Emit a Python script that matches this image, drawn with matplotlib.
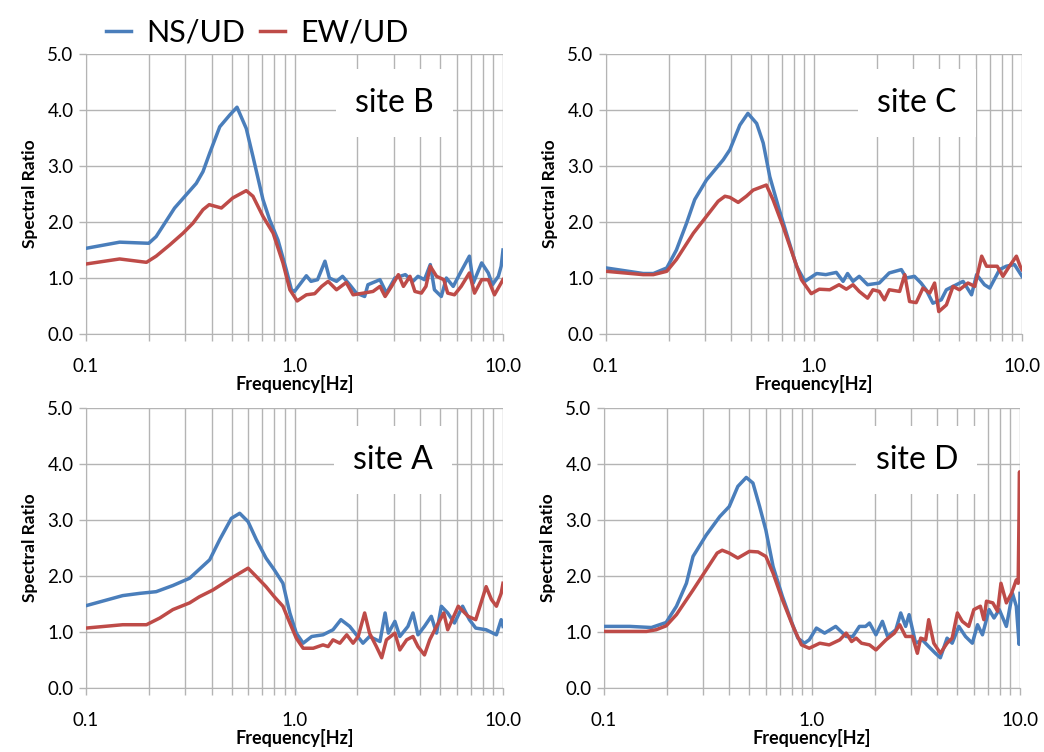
import matplotlib
matplotlib.use("Agg")
import matplotlib.pyplot as plt
from matplotlib.ticker import FixedLocator, LogLocator, NullFormatter

plt.rcParams['font.family'] = ['Lato', 'DejaVu Sans']

# ---- data (frequency [Hz], spectral ratio) ----
b_ns_f = [0.1, 0.145, 0.2, 0.217, 0.266, 0.338, 0.364, 0.392, 0.438, 0.489, 0.53, 0.587, 0.632, 0.706,
          0.76, 0.833, 0.913, 0.967, 1.0, 1.14, 1.2, 1.29, 1.4, 1.47, 1.59, 1.7, 1.84, 1.98, 2.17, 2.25,
          2.57, 2.76, 3.03, 3.4, 3.7, 3.91, 4.2, 4.48, 4.69, 5.06, 5.35, 5.77, 6.3, 6.9, 7.2, 7.9, 8.5,
          8.9, 9.5, 9.8, 10.0]
b_ns_v = [1.53, 1.64, 1.62, 1.74, 2.25, 2.69, 2.9, 3.23, 3.7, 3.91, 4.05, 3.67, 3.17, 2.4,
          2.04, 1.68, 1.15, 0.79, 0.76, 1.04, 0.94, 0.97, 1.3, 1.0, 0.94, 1.03, 0.88, 0.73, 0.67, 0.88,
          0.97, 0.73, 1.0, 1.06, 0.94, 1.03, 0.97, 1.24, 0.79, 0.67, 1.0, 0.85, 1.12, 1.39, 0.91, 1.27, 1.09,
          0.88, 1.03, 1.21, 1.5]
b_ew_f = [0.1, 0.145, 0.195, 0.217, 0.252, 0.292, 0.326, 0.364, 0.39, 0.446, 0.506, 0.587, 0.632, 0.706,
          0.79, 0.88, 0.95, 1.03, 1.14, 1.25, 1.35, 1.45, 1.59, 1.77, 1.91, 2.14, 2.38, 2.57, 2.72, 2.92,
          3.15, 3.33, 3.58, 3.78, 4.06, 4.27, 4.48, 4.8, 5.2, 5.43, 5.85, 6.3, 6.9, 7.3, 7.9, 8.5, 9.1, 10.0]
b_ew_v = [1.25, 1.34, 1.28, 1.39, 1.59, 1.8, 1.98, 2.22, 2.31, 2.25, 2.43, 2.56, 2.46, 2.1,
          1.8, 1.27, 0.79, 0.59, 0.7, 0.72, 0.85, 0.94, 0.79, 0.92, 0.7, 0.73, 0.76, 0.85, 0.67, 0.85,
          1.06, 0.85, 1.03, 0.76, 0.73, 0.85, 1.21, 1.03, 0.97, 0.73, 0.7, 0.85, 1.09, 0.73, 0.97, 0.97, 0.7, 0.97]

c_ns_f = [0.1, 0.151, 0.169, 0.196, 0.218, 0.244, 0.267, 0.304, 0.366, 0.394, 0.44, 0.481, 0.53, 0.57,
          0.613, 0.673, 0.737, 0.824, 0.904, 1.03, 1.14, 1.28, 1.38, 1.45, 1.54, 1.65, 1.81, 2.06, 2.3,
          2.63, 2.78, 3.04, 3.27, 3.46, 3.73, 4.09, 4.33, 4.66, 5.21, 5.72, 6.05, 6.6, 7.0, 7.8, 8.4, 9.2, 10.0]
c_ns_v = [1.18, 1.08, 1.08, 1.18, 1.5, 1.98, 2.4, 2.75, 3.11, 3.29, 3.73, 3.94, 3.76, 3.41,
          2.81, 2.28, 1.8, 1.21, 0.94, 1.08, 1.06, 1.1, 0.94, 1.08, 0.94, 1.03, 0.88, 0.91, 1.09,
          1.15, 1.0, 1.03, 0.91, 0.79, 0.55, 0.61, 0.79, 0.85, 0.94, 0.7, 1.06, 0.88, 0.82, 1.15, 1.21, 1.24, 1.03]
c_ew_f = [0.1, 0.151, 0.169, 0.196, 0.218, 0.263, 0.304, 0.346, 0.373, 0.394, 0.432, 0.473, 0.51, 0.59,
          0.635, 0.71, 0.795, 0.87, 0.97, 1.06, 1.19, 1.32, 1.43, 1.54, 1.65, 1.81, 1.92, 2.06, 2.18, 2.3,
          2.58, 2.73, 2.88, 3.1, 3.34, 3.6, 3.8, 3.98, 4.33, 4.66, 5.0, 5.5, 5.93, 6.4, 6.75, 7.6, 8.1, 8.7,
          9.4, 9.8, 10.0]
c_ew_v = [1.12, 1.06, 1.06, 1.12, 1.33, 1.8, 2.1, 2.37, 2.46, 2.44, 2.35, 2.46, 2.57, 2.66,
          2.4, 1.92, 1.39, 0.97, 0.72, 0.8, 0.79, 0.88, 0.8, 0.88, 0.76, 0.64, 0.79, 0.76, 0.61, 0.79,
          0.76, 1.06, 0.58, 0.56, 0.82, 0.73, 0.91, 0.4, 0.52, 0.85, 0.79, 0.91, 0.85, 1.39, 1.21, 1.21, 1.03, 1.21,
          1.39, 1.21, 1.15]

a_ns_f = [0.1, 0.15, 0.181, 0.217, 0.261, 0.314, 0.392, 0.438, 0.498, 0.546, 0.599, 0.656, 0.73, 0.8,
          0.88, 0.95, 1.02, 1.1, 1.21, 1.37, 1.53, 1.67, 1.84, 1.98, 2.13, 2.29, 2.57, 2.72, 2.82, 3.03,
          3.2, 3.5, 3.7, 3.91, 4.2, 4.53, 4.8, 5.06, 5.43, 5.85, 6.4, 6.9, 7.4, 8.3, 9.3, 9.8, 10.0]
a_ns_v = [1.47, 1.65, 1.69, 1.72, 1.83, 1.96, 2.29, 2.65, 3.03, 3.12, 2.97, 2.65, 2.32, 2.11,
          1.87, 1.34, 0.98, 0.8, 0.92, 0.95, 1.04, 1.22, 1.1, 0.95, 0.8, 0.92, 0.83, 1.34, 0.98, 1.19,
          0.92, 1.1, 1.34, 0.95, 1.1, 1.28, 0.98, 1.46, 1.34, 1.16, 1.46, 1.22, 1.07, 1.04, 0.95, 1.22, 1.1]
a_ew_f = [0.1, 0.15, 0.195, 0.226, 0.261, 0.314, 0.35, 0.406, 0.507, 0.599, 0.656, 0.73, 0.8, 0.88,
          0.95, 1.02, 1.1, 1.23, 1.37, 1.45, 1.53, 1.65, 1.78, 1.91, 2.02, 2.17, 2.29, 2.47, 2.62, 2.76,
          3.03, 3.2, 3.45, 3.7, 3.91, 4.2, 4.45, 4.8, 5.2, 5.43, 6.1, 6.8, 7.4, 8.3, 8.8, 9.3, 9.8, 10.0]
a_ew_v = [1.07, 1.13, 1.13, 1.25, 1.4, 1.52, 1.63, 1.75, 1.98, 2.14, 1.99, 1.81, 1.63, 1.46,
          1.16, 0.89, 0.71, 0.71, 0.77, 0.74, 0.86, 0.8, 0.95, 0.8, 0.92, 1.34, 0.98, 0.74, 0.54, 0.86,
          0.98, 0.68, 0.86, 0.92, 0.74, 0.59, 0.86, 1.1, 1.34, 1.04, 1.46, 1.28, 1.22, 1.81, 1.58, 1.46, 1.69, 1.87]

d_ns_f = [0.1, 0.133, 0.169, 0.199, 0.223, 0.249, 0.268, 0.31, 0.36, 0.4, 0.44, 0.483, 0.52, 0.56,
          0.6, 0.65, 0.72, 0.79, 0.855, 0.92, 0.97, 1.05, 1.15, 1.3, 1.46, 1.57, 1.69, 1.81, 1.89, 2.03,
          2.18, 2.31, 2.53, 2.67, 2.82, 2.93, 3.15, 3.39, 3.64, 3.92, 4.14, 4.46, 4.72, 5.08, 5.47, 5.9,
          6.25, 6.6, 7.1, 7.5, 7.95, 8.6, 9.2, 9.6, 9.9, 10.0]
d_ns_v = [1.1, 1.1, 1.08, 1.17, 1.46, 1.87, 2.35, 2.73, 3.06, 3.24, 3.6, 3.76, 3.66, 3.24,
          2.82, 2.17, 1.64, 1.22, 0.89, 0.8, 0.86, 1.07, 0.98, 1.1, 0.92, 0.92, 1.1, 1.1, 1.16, 0.95,
          1.19, 0.92, 1.04, 1.34, 1.1, 1.31, 0.8, 0.86, 0.74, 0.62, 0.54, 0.89, 0.8, 1.1, 0.92, 0.8,
          1.13, 0.95, 1.4, 1.25, 1.4, 1.1, 1.69, 1.46, 0.78, 1.69]
d_ew_f = [0.1, 0.16, 0.178, 0.199, 0.223, 0.268, 0.31, 0.35, 0.37, 0.4, 0.44, 0.5, 0.55, 0.6,
          0.65, 0.72, 0.81, 0.89, 0.97, 1.09, 1.21, 1.36, 1.46, 1.55, 1.63, 1.73, 1.89, 2.03, 2.27, 2.49,
          2.64, 2.82, 3.04, 3.21, 3.33, 3.52, 3.64, 3.85, 4.14, 4.46, 4.72, 5.0, 5.28, 5.67, 6.0, 6.45,
          6.7, 6.9, 7.4, 7.8, 8.1, 8.6, 9.1, 9.6, 9.8, 9.95, 10.0]
d_ew_v = [1.01, 1.01, 1.04, 1.11, 1.31, 1.75, 2.11, 2.41, 2.46, 2.41, 2.32, 2.44, 2.43, 2.35,
          2.05, 1.58, 1.1, 0.77, 0.71, 0.8, 0.77, 0.86, 0.98, 0.83, 0.89, 0.8, 0.77, 0.68, 0.86, 0.98,
          1.13, 0.92, 0.92, 0.62, 0.89, 0.86, 1.22, 0.8, 0.62, 0.8, 0.89, 1.34, 1.19, 1.1, 1.4, 1.46,
          1.22, 1.55, 1.52, 1.37, 1.87, 1.52, 1.69, 1.93, 1.87, 3.86, 2.05]

sites = ['site B', 'site C', 'site A', 'site D']
ns_data = [(b_ns_f, b_ns_v), (c_ns_f, c_ns_v), (a_ns_f, a_ns_v), (d_ns_f, d_ns_v)]
ew_data = [(b_ew_f, b_ew_v), (c_ew_f, c_ew_v), (a_ew_f, a_ew_v), (d_ew_f, d_ew_v)]

blue = '#4a7ebb'
red = '#be4b48'
grid_c = '#b4b4b4'

W, H = 1044, 752
fig = plt.figure(figsize=(W / 100, H / 100), dpi=100)

# axes boxes in pixels: left, top, right, bottom
boxes = [(86, 54, 503, 334), (606, 54, 1022, 334), (86, 408, 503, 688), (604, 408, 1020, 688)]
label_pos = [(0.74, 0.825), (0.748, 0.825), (0.737, 0.814), (0.752, 0.814)]

for i, (l, t, r, b) in enumerate(boxes):
    ax = fig.add_axes([l / W, 1 - b / H, (r - l) / W, (b - t) / H])
    ax.set_xscale('log')
    ax.set_xlim(0.1, 10)
    ax.set_ylim(0, 5)
    ax.xaxis.set_major_locator(FixedLocator([0.1, 1, 10]))
    ax.xaxis.set_minor_locator(LogLocator(base=10, subs=range(2, 10)))
    ax.xaxis.set_minor_formatter(NullFormatter())
    ax.set_xticks([0.1, 1, 10])
    ax.set_xticklabels(['0.1', '1.0', '10.0'])
    ax.set_yticks([0, 1, 2, 3, 4, 5])
    ax.set_yticklabels(['0.0', '1.0', '2.0', '3.0', '4.0', '5.0'])
    ax.grid(True, which='both', axis='x', color=grid_c, lw=1)
    ax.grid(True, which='major', axis='y', color=grid_c, lw=1)
    ax.set_axisbelow(True)
    for s in ['top', 'right']:
        ax.spines[s].set_visible(False)
    for s in ['left', 'bottom']:
        ax.spines[s].set_color(grid_c)
    ax.tick_params(axis='both', which='both', colors=grid_c, labelcolor='black', labelsize=13.5, width=1)
    ax.tick_params(axis='x', which='both', length=5, pad=12)
    ax.tick_params(axis='y', length=5, pad=4)

    f, v = ns_data[i]
    ax.plot(f, v, color=blue, lw=2.5, label='NS/UD', zorder=3)
    f, v = ew_data[i]
    ax.plot(f, v, color=red, lw=2.5, label='EW/UD', zorder=3)

    ax.set_xlabel('Frequency[Hz]', fontsize=13, fontweight='bold', labelpad=0)
    ax.set_ylabel('Spectral Ratio', fontsize=12.5, fontweight='bold', labelpad=7)

    tx, ty = label_pos[i]
    ax.text(tx, ty, sites[i], transform=ax.transAxes, ha='center', va='center', fontsize=23,
            zorder=4, bbox=dict(boxstyle='square,pad=0.6', fc='white', ec='none'))

    if i == 0:
        handles, labels = ax.get_legend_handles_labels()

fig.legend(handles, labels, loc='upper left', bbox_to_anchor=(88 / W, 1.0), ncol=2, frameon=False,
           fontsize=22, handlelength=0.8, handletextpad=0.5, columnspacing=0.5, borderaxespad=0.2)

fig.savefig('out.png', dpi=100)
